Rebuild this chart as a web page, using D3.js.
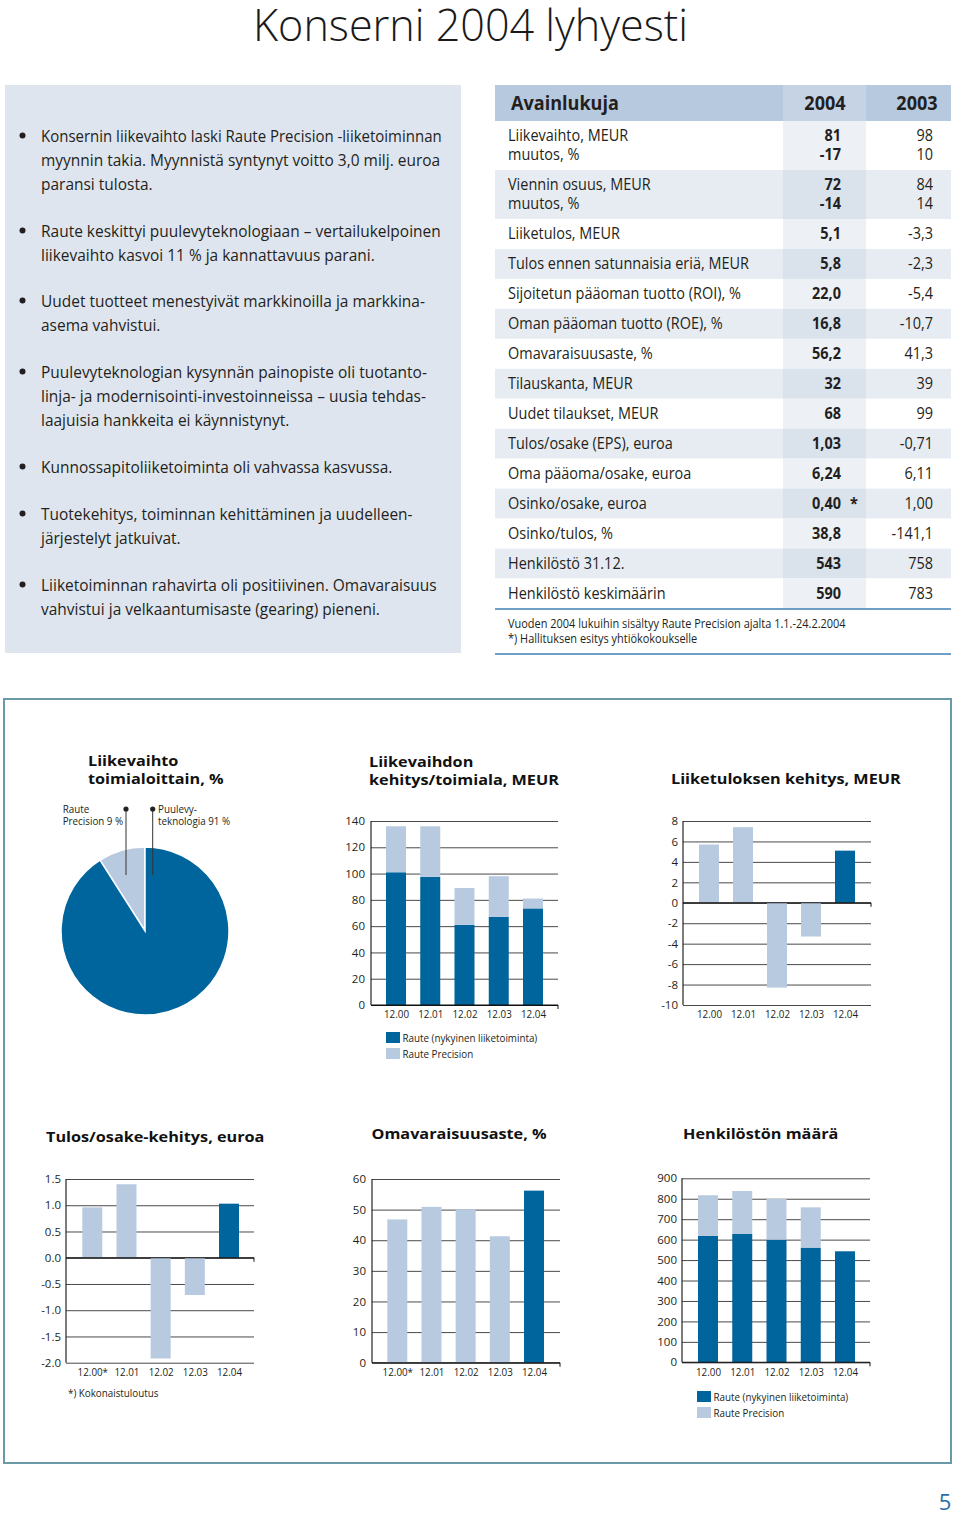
<!DOCTYPE html>
<html><head><meta charset="utf-8">
<script src="https://cdn.jsdelivr.net/npm/d3@7"></script>
<style>html,body{margin:0;padding:0;background:#fff}svg{display:block}</style>
</head><body>
<svg id="page" width="960" height="1515"></svg>
<script>
// ---------- DATA ----------
const pageTitle = "Konserni 2004 lyhyesti";
const bullets = [
  ["Konsernin liikevaihto laski Raute Precision -liiketoiminnan", "myynnin takia. Myynnistä syntynyt voitto 3,0 milj. euroa", "paransi tulosta."],
  ["Raute keskittyi puulevyteknologiaan – vertailukelpoinen", "liikevaihto kasvoi 11 % ja kannattavuus parani."],
  ["Uudet tuotteet menestyivät markkinoilla ja markkina-", "asema vahvistui."],
  ["Puulevyteknologian kysynnän painopiste oli tuotanto-", "linja- ja modernisointi-investoinneissa – uusia tehdas-", "laajuisia hankkeita ei käynnistynyt."],
  ["Kunnossapitoliiketoiminta oli vahvassa kasvussa."],
  ["Tuotekehitys, toiminnan kehittäminen ja uudelleen-", "järjestelyt jatkuivat."],
  ["Liiketoiminnan rahavirta oli positiivinen. Omavaraisuus", "vahvistui ja velkaantumisaste (gearing) pieneni."]
];
const tableHeader = ["Avainlukuja", "2004", "2003"];
const tableLabels = [
  ["Liikevaihto, MEUR", "muutos, %"], ["Viennin osuus, MEUR", "muutos, %"], ["Liiketulos, MEUR"],
  ["Tulos ennen satunnaisia eriä, MEUR"], ["Sijoitetun pääoman tuotto (ROI), %"], ["Oman pääoman tuotto (ROE), %"],
  ["Omavaraisuusaste, %"], ["Tilauskanta, MEUR"], ["Uudet tilaukset, MEUR"], ["Tulos/osake (EPS), euroa"],
  ["Oma pääoma/osake, euroa"], ["Osinko/osake, euroa"], ["Osinko/tulos, %"], ["Henkilöstö 31.12."], ["Henkilöstö keskimäärin"]
];
const values2004 = [["81","-17"],["72","-14"],["5,1"],["5,8"],["22,0"],["16,8"],["56,2"],["32"],["68"],["1,03"],["6,24"],["0,40"],["38,8"],["543"],["590"]];
const values2003 = [["98","10"],["84","14"],["-3,3"],["-2,3"],["-5,4"],["-10,7"],["41,3"],["39"],["99"],["-0,71"],["6,11"],["1,00"],["-141,1"],["758"],["783"]];
const notes2004 = ["","","","","","","","","","","","*","","",""];
const tableFootnotes = ["Vuoden 2004 lukuihin sisältyy Raute Precision ajalta 1.1.-24.2.2004", "*) Hallituksen esitys yhtiökokoukselle"];

const years = ["12.00", "12.01", "12.02", "12.03", "12.04"];
const yearsStar = ["12.00*", "12.01", "12.02", "12.03", "12.04"];
const seriesNames = ["Raute (nykyinen liiketoiminta)", "Raute Precision"];

const pieTitle = ["Liikevaihto", "toimialoittain, %"];
const pieNames = [["Raute", "Precision 9 %"], ["Puulevy-", "teknologia 91 %"]];
const pieShares = [9, 91];

const salesTitle = ["Liikevaihdon", "kehitys/toimiala, MEUR"];
const salesRaute = [101, 97.5, 61, 67, 73.5];
const salesPrecision = [35, 38.5, 28, 31, 7.5];
const salesTicks = [0, 20, 40, 60, 80, 100, 120, 140];

const profitTitle = ["Liiketuloksen kehitys, MEUR"];
const operatingProfit = [5.7, 7.4, -8.3, -3.3, 5.1];
const profitTicks = [-10, -8, -6, -4, -2, 0, 2, 4, 6, 8];

const epsTitle = ["Tulos/osake-kehitys, euroa"];
const eps = [0.96, 1.40, -1.92, -0.71, 1.03];
const epsTicks = [-2.0, -1.5, -1.0, -0.5, 0.0, 0.5, 1.0, 1.5];
const epsNote = "*) Kokonaistuloutus";

const equityTitle = ["Omavaraisuusaste, %"];
const equityRatio = [46.8, 50.9, 50.1, 41.3, 56.2];
const equityTicks = [0, 10, 20, 30, 40, 50, 60];

const staffTitle = ["Henkilöstön määrä"];
const staffRaute = [618, 629, 600, 561, 543];
const staffPrecision = [199, 209, 199, 197, 0];
const staffTicks = [0, 100, 200, 300, 400, 500, 600, 700, 800, 900];

// ---------- STYLE ----------
const FONT = "'Open Sans','Noto Sans',sans-serif";
const DARK = "#00649d", LIGHT = "#b8cae0", INK = "#231f20";
const svg = d3.select("#page");

function measure(size, weight, s) {
  const t = svg.append("text").attr("font-size", size).attr("font-weight", weight).attr("font-family", FONT).text(s);
  const w = t.node().getComputedTextLength(); t.remove(); return w;
}
function calib(size, weight, strs, target) {
  let w = 0;
  strs.forEach(s => { w += measure(size, weight, s); });
  return w > 0 ? target * strs.length / w : 1;
}
function txt(parent, x, y, s, st) {
  return parent.append("text")
    .attr("transform", `translate(${x},${y}) scale(${st.sx || 1},1)`)
    .attr("font-size", st.size).attr("font-weight", st.weight || 400)
    .attr("text-anchor", st.anchor || "start").attr("fill", st.fill || INK)
    .attr("font-family", FONT).text(s);
}
const hy = f => d => f(d).replace("\u2212", "-");

const sxTitle = calib(45, 300, [pageTitle], 435);
const sxBody = calib(17, 400, [bullets[0][0], bullets[1][0], bullets[3][0], bullets[6][0]], 399);
const sxTable = calib(16, 400, [tableLabels[3][0], tableLabels[4][0]], 237);
const sxHead = calib(20, 700, [tableHeader[0]], 108);
const sxFoot = calib(12, 400, [tableFootnotes[0]], 338);
const sxCT = calib(14.5, 700, [profitTitle[0]], 230);
const sxSmall = calib(11, 400, [seriesNames[0]], 135);

// ---------- PAGE TITLE ----------
txt(svg, 470.5, 41, pageTitle, {size: 45, weight: 300, anchor: "middle", sx: sxTitle, fill: "#1a1a1a"});

// ---------- BULLET BOX ----------
svg.append("rect").attr("x", 5).attr("y", 85).attr("width", 456).attr("height", 568).attr("fill", "#dfe5ef");
const bulletG = svg.append("g");
const bulletStarts = [141.5, 236.5, 306.5, 377.5, 472.5, 519.5, 590.5];
bullets.forEach((lines, i) => {
  bulletG.append("circle").attr("cx", 22.5).attr("cy", bulletStarts[i] - 6).attr("r", 3).attr("fill", INK);
  lines.forEach((ln, j) => {
    const w = measure(17, 400, ln) * sxBody;
    const sx = w > 401 ? sxBody * 401 / w : sxBody;
    txt(bulletG, 41, bulletStarts[i] + j * 24, ln, {size: 17, sx});
  });
});

// ---------- TABLE ----------
const tX0 = 495, tX1 = 951, cX0 = 783, cX1 = 866;
svg.append("rect").attr("x", tX0).attr("y", 85).attr("width", tX1 - tX0).attr("height", 36).attr("fill", "#b7c9de");
svg.append("rect").attr("x", cX0).attr("y", 85).attr("width", cX1 - cX0).attr("height", 36).attr("fill", "#c5d3e5");
txt(svg, 511, 109.5, tableHeader[0], {size: 20, weight: 700, sx: sxHead});
txt(svg, 825, 109.5, tableHeader[1], {size: 20, weight: 700, anchor: "middle", sx: sxHead});
txt(svg, 917, 109.5, tableHeader[2], {size: 20, weight: 700, anchor: "middle", sx: sxHead});
let rowTop = 121;
const singleH = (608.5 - 219) / 13;
tableLabels.forEach((lab, i) => {
  const h = lab.length === 2 ? 49 : singleH;
  const shaded = i % 2 === 1;
  svg.append("rect").attr("x", tX0).attr("y", rowTop).attr("width", tX1 - tX0).attr("height", h).attr("fill", shaded ? "#e7ecf3" : "#ffffff");
  svg.append("rect").attr("x", cX0).attr("y", rowTop).attr("width", cX1 - cX0).attr("height", h).attr("fill", shaded ? "#dae2ec" : "#edf1f6");
  lab.forEach((l, j) => {
    const by = rowTop + 20 + j * 19;
    txt(svg, 508, by, l, {size: 16, sx: sxTable});
    txt(svg, 841, by, values2004[i][j], {size: 16, weight: 700, anchor: "end", sx: sxTable});
    txt(svg, 933, by, values2003[i][j], {size: 16, anchor: "end", sx: sxTable});
    if (j === 0 && notes2004[i]) txt(svg, 850, by, notes2004[i], {size: 16, weight: 700, sx: sxTable});
  });
  rowTop += h;
});
svg.append("line").attr("x1", tX0).attr("x2", tX1).attr("y1", 609).attr("y2", 609).attr("stroke", "#3f7fb5").attr("stroke-width", 1.6);
svg.append("line").attr("x1", tX0).attr("x2", tX1).attr("y1", 654).attr("y2", 654).attr("stroke", "#3f7fb5").attr("stroke-width", 1.6);
tableFootnotes.forEach((f, i) => txt(svg, 508, 627.5 + i * 15, f, {size: 12, sx: sxFoot}));

// ---------- BOTTOM FRAME ----------
svg.append("rect").attr("x", 4).attr("y", 699).attr("width", 947).attr("height", 764)
  .attr("fill", "none").attr("stroke", "#6a9aa6").attr("stroke-width", 2);
txt(svg, 945, 1510, "5", {size: 22, anchor: "middle", fill: "#2a6fae"});

function chartTitle(x, y, lines) {
  lines.forEach((l, i) => txt(svg, x, y + i * 18, l, {size: 14.5, weight: 700, sx: sxCT, fill: "#111"}));
}

// ---------- PIE ----------
chartTitle(88, 766, pieTitle);
const pieG = svg.append("g").attr("transform", "translate(145,931)");
const startA = -pieShares[0] / 100 * 2 * Math.PI;
const pie = d3.pie().sort(null).startAngle(startA).endAngle(startA + 2 * Math.PI);
const arc = d3.arc().innerRadius(0).outerRadius(84);
pieG.selectAll("path").data(pie(pieShares)).join("path")
  .attr("d", arc).attr("fill", (d, i) => i === 0 ? LIGHT : DARK).attr("stroke", "#fff").attr("stroke-width", 1.5);
const pieLab = [{tx: 62.7, dot: 126}, {tx: 158, dot: 152.7}];
pieLab.forEach((p, i) => {
  svg.append("line").attr("x1", p.dot).attr("x2", p.dot).attr("y1", 809).attr("y2", 875).attr("stroke", "#333").attr("stroke-width", 1);
  svg.append("circle").attr("cx", p.dot).attr("cy", 809).attr("r", 2.6).attr("fill", "#222");
  pieNames[i].forEach((l, j) => txt(svg, p.tx, 813 + j * 12, l, {size: 11, sx: sxSmall}));
});

// ---------- BAR CHART HELPER ----------
function barChart(o) {
  const g = svg.append("g");
  const y = d3.scaleLinear().domain([o.ticks[0], o.ticks[o.ticks.length - 1]]).range(o.yRange);
  const x = d3.scalePoint().domain(o.cats).range([o.c0, o.c1]);
  const bw = 20;
  const ax = g.append("g").attr("transform", `translate(${o.axisX},0)`)
    .call(d3.axisLeft(y).tickValues(o.ticks).tickFormat(o.fmt).tickSizeInner(-(o.gridEnd - o.axisX)).tickSizeOuter(0).tickPadding(o.pad || 6));
  ax.select(".domain").remove();
  ax.selectAll(".tick line").attr("stroke", d => (d === 0 ? "#111" : "#4a4a4a")).attr("stroke-width", 1);
  ax.selectAll(".tick text").attr("font-size", 11.5).attr("font-family", FONT).attr("fill", INK);
  if (o.series.length > 1) {
    const layers = d3.stack().keys(o.series.map((s, i) => i)).value((d, k) => o.series[k][d])(o.cats.map((c, i) => i));
    layers.forEach((L, k) => {
      g.append("g").selectAll("rect").data(L).join("rect")
        .attr("x", (d, i) => x(o.cats[i]) - bw / 2).attr("width", bw)
        .attr("y", d => y(d[1])).attr("height", d => Math.max(0, y(d[0]) - y(d[1])))
        .attr("fill", o.colors[k]);
    });
  } else {
    g.append("g").selectAll("rect").data(o.series[0]).join("rect")
      .attr("x", (d, i) => x(o.cats[i]) - bw / 2).attr("width", bw)
      .attr("y", d => y(Math.max(0, d))).attr("height", d => Math.abs(y(d) - y(0)))
      .attr("fill", (d, i) => i === o.cats.length - 1 ? DARK : LIGHT);
  }
  const y0 = o.yRange[0], yTop = o.yRange[1];
  g.append("line").attr("x1", o.axisX).attr("x2", o.axisX).attr("y1", yTop).attr("y2", y0).attr("stroke", "#111").attr("stroke-width", 1.1);
  const base = y(0);
  g.append("line").attr("x1", o.axisX).attr("x2", o.gridEnd).attr("y1", base).attr("y2", base).attr("stroke", "#111").attr("stroke-width", 1.1);
  g.append("line").attr("x1", o.gridEnd).attr("x2", o.gridEnd).attr("y1", base).attr("y2", base + 4).attr("stroke", "#111").attr("stroke-width", 1);
  const xa = g.append("g").attr("transform", `translate(0,${o.labelY})`).call(d3.axisBottom(x).tickSize(0).tickPadding(0));
  xa.select(".domain").remove();
  xa.selectAll(".tick text").attr("font-size", 11).attr("font-family", FONT).attr("fill", INK)
    .attr("dy", 0).attr("y", 0).attr("transform", `scale(${sxSmall},1)`);
  return {x, y};
}
function legend(x, y) {
  [DARK, LIGHT].forEach((c, i) => {
    svg.append("rect").attr("x", x).attr("y", y + i * 16).attr("width", 14).attr("height", 11).attr("fill", c);
    txt(svg, x + 16.5, y + 10 + i * 16, seriesNames[i], {size: 11, sx: sxSmall});
  });
}

chartTitle(369, 767, salesTitle);
barChart({cats: years, series: [salesRaute, salesPrecision], colors: [DARK, LIGHT], ticks: salesTicks, fmt: hy(d3.format("d")),
  yRange: [1005, 821], axisX: 371, gridEnd: 558, c0: 396, c1: 533, labelY: 1018});
legend(386, 1032);

chartTitle(671, 784, profitTitle);
barChart({cats: years, series: [operatingProfit], ticks: profitTicks, fmt: hy(d3.format("d")),
  yRange: [1005, 821], axisX: 683, gridEnd: 871, c0: 709, c1: 845, labelY: 1018, pad: 5});

chartTitle(46, 1142, epsTitle);
barChart({cats: yearsStar, series: [eps], ticks: epsTicks, fmt: hy(d3.format(".1f")),
  yRange: [1362.7, 1179], axisX: 66, gridEnd: 254, c0: 92.3, c1: 229, labelY: 1376, pad: 5});
txt(svg, 68, 1397, epsNote, {size: 11, sx: sxSmall});

chartTitle(371.5, 1139, equityTitle);
barChart({cats: yearsStar, series: [equityRatio], ticks: equityTicks, fmt: hy(d3.format("d")),
  yRange: [1362.7, 1179], axisX: 372, gridEnd: 560, c0: 397.3, c1: 534, labelY: 1376, pad: 6});

chartTitle(683, 1139, staffTitle);
barChart({cats: years, series: [staffRaute, staffPrecision], colors: [DARK, LIGHT], ticks: staffTicks, fmt: hy(d3.format("d")),
  yRange: [1362.3, 1178.3], axisX: 682, gridEnd: 870, c0: 708, c1: 845, labelY: 1376, pad: 5});
legend(697, 1391);
</script>
</body></html>
